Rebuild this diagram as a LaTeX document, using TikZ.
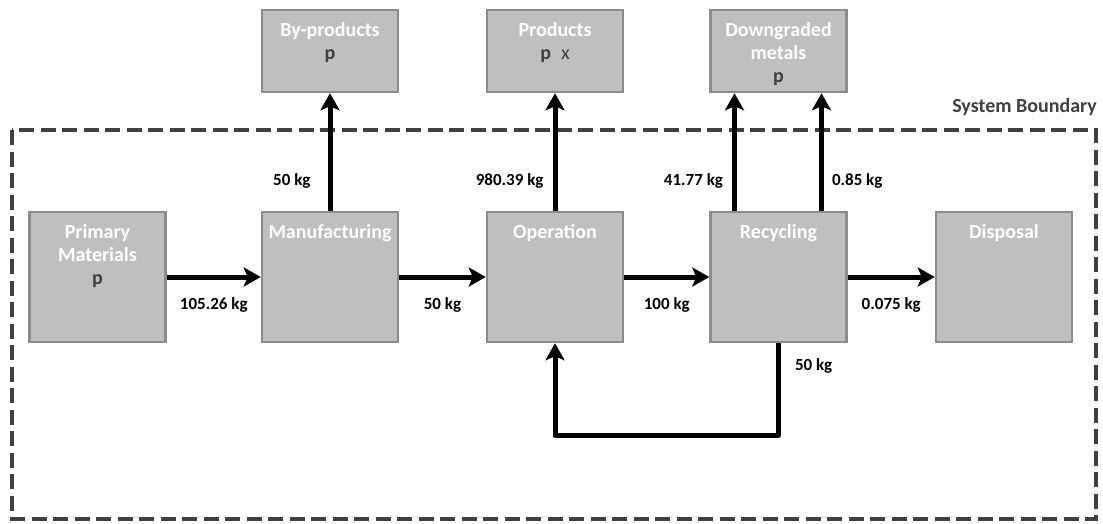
\documentclass[tikz,border=0pt]{standalone}
\usepackage{fontspec}
\setmainfont{Carlito}
\usepackage{xcolor}
\usetikzlibrary{arrows.meta}
\definecolor{boxfill}{HTML}{BFBFBF}
\definecolor{boxline}{HTML}{8C8C8C}
\definecolor{darktxt}{HTML}{404040}
\tikzset
  {flowbox/.style={rectangle, draw=boxline, fill=boxfill, line width=2.5pt, minimum width=136pt, minimum height=#1, inner sep=0pt},
   flowbox/.default={130pt},
   boxtitle/.style={anchor=north, yshift=-13.5pt, align=center, text=white, inner sep=0pt, font=\fontsize{20}{23}\selectfont\bfseries},
   flow/.style={line width=5pt, line join=round, -{Stealth[length=17pt,width=19pt,inset=4pt]}},
   flowlab/.style={inner sep=0pt, text=black},
   boundary/.style={draw=darktxt, line width=4pt, dash pattern=on 15pt off 6.5pt}}
\newcommand{\pmark}[1]{\textcolor{darktxt}{#1}}

\begin{document}
\begin{tikzpicture}[x=1pt, y=-1pt, font=\fontsize{17}{23}\selectfont\bfseries]
 \useasboundingbox (0,0) rectangle (1103,523);

 \draw[boundary] (12,130) rectangle (1096,519);
 \node[flowlab, text=darktxt, anchor=east, font=\fontsize{20}{23}\selectfont\bfseries] (sysb) at (1097,107) {System Boundary};

 \draw (97.5,277) node[flowbox, label={[boxtitle]90:{Primary\\Materials\\\pmark{p}}}] (prim) {};
 \draw (330,277)  node[flowbox, label={[boxtitle]90:{Manufacturing}}] (manu) {};
 \draw (555,277)  node[flowbox, label={[boxtitle]90:{Operation}}] (oper) {};
 \draw (778.5,277) node[flowbox, label={[boxtitle]90:{Recycling}}] (recy) {};
 \draw (1004,277) node[flowbox, label={[boxtitle]90:{Disposal}}] (disp) {};

 \draw (330,51)   node[flowbox=82pt, label={[boxtitle]90:{By-products\\\pmark{p}}}] (byp) {};
 \draw (555,51)   node[flowbox=82pt, label={[boxtitle]90:{Products\\\pmark{p\hspace{10pt}{\mdseries x}}}}] (prod) {};
 \draw (778.5,51) node[flowbox=82pt, label={[boxtitle]90:{Downgraded\\metals\\\pmark{p}}}] (down) {};

 \draw[flow] (prim.east) -- (manu.west)
    node[midway, below=18pt, flowlab] {105.26 kg};
 \draw[flow] (manu.east) -- (oper.west)
    node[midway, below=18pt, flowlab] {50 kg};
 \draw[flow] (oper.east) -- (recy.west)
    node[midway, below=18pt, flowlab] {100 kg};
 \draw[flow] (recy.east) -- (disp.west)
    node[midway, below=18pt, flowlab] {0.075 kg};

 \draw[flow] (manu.north) -- (byp.south)
    node[pos=0.25, left=17pt, flowlab] {50 kg};
 \draw[flow] (oper.north) -- (prod.south)
    node[pos=0.25, left=9pt, flowlab] {980.39 kg};
 \draw[flow] ([xshift=-44pt]recy.north) -- ([xshift=-44pt]down.south)
    node[pos=0.25, left=9pt, flowlab] {41.77 kg};
 \draw[flow] ([xshift=43pt]recy.north) -- ([xshift=43pt]down.south)
    node[pos=0.25, right=8pt, flowlab] {0.85 kg};

 \draw[flow] (recy.south) -- ++(0,92)
    node[pos=0.25, right=14pt, flowlab] {50 kg} -| (oper.south);
\end{tikzpicture}
\end{document}
